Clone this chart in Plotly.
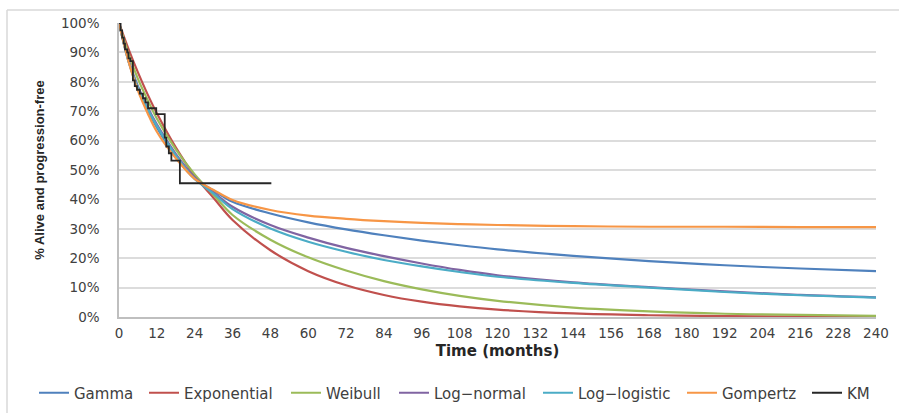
import plotly.graph_objects as go

# ---- data ----
months = [0, 3, 6, 9, 12, 18, 24, 30, 36, 48, 60, 72, 84, 96, 108, 120, 144, 168, 192, 216, 240]

gamma       = [100, 87.0, 77.5, 70.5, 64.5, 54.5, 47.0, 43.0, 39.2, 35.2, 32.2, 29.8, 27.8, 26.0, 24.4, 23.0, 20.8, 19.0, 17.6, 16.5, 15.6]
exponential = [100, 91.2, 83.2, 75.9, 69.3, 57.7, 48.0, 40.5, 33.0, 22.7, 15.6, 10.8, 7.5, 5.2, 3.6, 2.5, 1.2, 0.6, 0.3, 0.15, 0.1]
weibull     = [100, 89.5, 81.0, 74.0, 67.5, 57.0, 48.5, 41.5, 34.7, 26.3, 20.3, 15.8, 12.2, 9.4, 7.2, 5.5, 3.2, 1.9, 1.1, 0.7, 0.4]
lognormal   = [100, 87.5, 78.5, 71.5, 65.5, 55.5, 47.5, 42.4, 37.5, 31.3, 27.0, 23.5, 20.7, 18.2, 16.0, 14.2, 11.8, 10.2, 8.7, 7.5, 6.7]
loglogistic = [100, 87.0, 78.0, 71.0, 65.0, 55.0, 47.0, 42.0, 36.7, 30.1, 25.6, 22.2, 19.4, 17.2, 15.3, 13.7, 11.6, 10.0, 8.5, 7.4, 6.6]
gompertz    = [100, 87.0, 77.0, 69.5, 63.0, 54.0, 47.0, 43.2, 39.8, 36.4, 34.5, 33.4, 32.6, 32.0, 31.6, 31.3, 30.9, 30.7, 30.7, 30.6, 30.6]

km_time = [0, 0.5, 1.0, 1.5, 1.9, 2.6, 3.0, 3.6, 4.4, 5.0, 5.7, 6.6, 7.6, 8.4, 9.2, 11.8, 14.5, 15.0, 15.8, 16.6, 19.3, 48.3]
km_surv = [100, 97.5, 95, 93, 91, 90, 88, 87, 80.5, 78.5, 77.3, 76, 74.4, 73, 71, 69, 61, 58, 55.7, 53.2, 45.5, 45.5]

series_names = ["Gamma", "Exponential", "Weibull", "Log\u2212normal", "Log\u2212logistic", "Gompertz"]
series_vals = [gamma, exponential, weibull, lognormal, loglogistic, gompertz]
colors = ["#4F81BD", "#C0504D", "#9BBB59", "#8064A2", "#4BACC6", "#F79646"]

x_ticks = list(range(0, 241, 12))
y_ticks = list(range(0, 101, 10))
y_tick_text = [f"{v}%" for v in y_ticks]

W, H = 899, 415
L, R, T, B = 119, 23, 23, 98
pw, ph = W - L - R, H - T - B

# left edge (px) of each legend entry's line sample, in legend order
legend_left_px = [40, 150, 292, 400, 544, 688, 813]
legend_ids = ["legend"] + [f"legend{i}" for i in range(2, 8)]

fig = go.Figure()
for i, (name, vals, c) in enumerate(zip(series_names, series_vals, colors)):
    fig.add_trace(go.Scatter(x=months, y=vals, mode="lines", name=name, legend=legend_ids[i],
                             line=dict(color=c, width=2.2, shape="spline", smoothing=1.0)))
fig.add_trace(go.Scatter(x=km_time, y=km_surv, mode="lines", name="KM", legend=legend_ids[6],
                         line=dict(color="#262626", width=1.8, shape="hv")))

def px_x(p):
    return (p - L) / pw

def px_y(p):
    return (H - B - p) / ph

legend_layout = {}
for lid, lx in zip(legend_ids, legend_left_px):
    legend_layout[lid] = dict(orientation="h", xref="paper", yref="paper",
                              x=px_x(lx - 6), xanchor="left", y=px_y(393), yanchor="middle",
                              font=dict(family="DejaVu Sans", size=15, color="#404040"),
                              itemwidth=30, bgcolor="rgba(0,0,0,0)", borderwidth=0)

fig.update_layout(
    width=W, height=H,
    margin=dict(l=L, r=R, t=T, b=B, autoexpand=False),
    paper_bgcolor="white", plot_bgcolor="white",
    font=dict(family="DejaVu Sans", color="#404040", size=13),
    showlegend=True,
    xaxis=dict(range=[0, 240], tickvals=x_ticks, showgrid=False, zeroline=False,
               showline=True, linecolor="#BFBFBF", linewidth=1.5,
               ticks="", ticklabelstandoff=3,
               tickfont=dict(family="DejaVu Sans", size=13.5, color="#404040"),
               title=dict(text="<b>Time (months)</b>", standoff=6,
                          font=dict(family="DejaVu Sans", size=15, color="#262626"))),
    yaxis=dict(range=[0, 100], tickmode="array", tickvals=y_ticks, ticktext=y_tick_text,
               showgrid=True, gridcolor="#DCDCDC", gridwidth=1.5, zeroline=False,
               showline=True, linecolor="#BFBFBF", linewidth=1.5,
               ticks="", ticklabelstandoff=15,
               tickfont=dict(family="DejaVu Sans", size=13.5, color="#404040"),
               title=dict(text="<b>% Alive and progression-free</b>", standoff=13,
                          font=dict(family="Liberation Sans", size=13, color="#262626"))),
    shapes=[
        dict(type="line", xref="paper", yref="paper", x0=px_x(7), x1=px_x(899), y0=px_y(10), y1=px_y(10),
             line=dict(color="#D9D9D9", width=1.5)),
        dict(type="line", xref="paper", yref="paper", x0=px_x(7), x1=px_x(7), y0=px_y(10), y1=px_y(413),
             line=dict(color="#D9D9D9", width=1.5)),
    ],
    **legend_layout,
)

fig.write_html("out.html")
